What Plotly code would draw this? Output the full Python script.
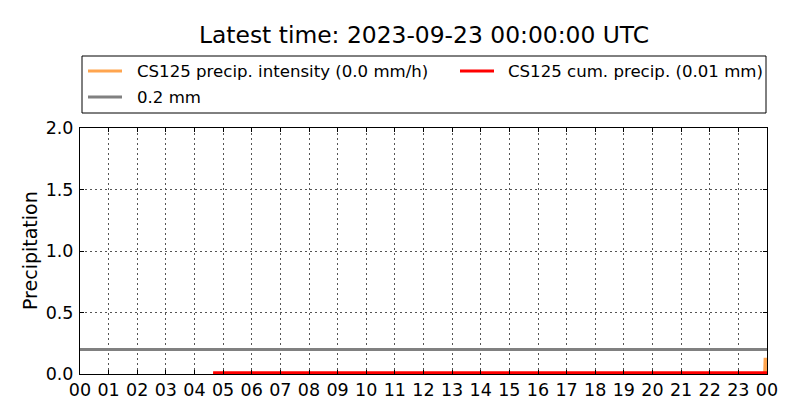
import plotly.graph_objects as go

# ---- data ----
title_text = "Latest time: 2023-09-23 00:00:00 UTC"
intensity_times = ["2023-09-22 04:39", "2023-09-22 23:55", "2023-09-22 23:56",
                   "2023-09-22 23:59", "2023-09-23 00:00"]
intensity_vals = [0.0, 0.0, 0.12, 0.12, 0.0]
cum_times = ["2023-09-22 04:39", "2023-09-23 00:00"]
cum_vals = [0.01, 0.01]
threshold_times = ["2023-09-22 00:00", "2023-09-23 00:00"]
threshold_vals = [0.2, 0.2]
legend_labels = ["CS125 precip. intensity (0.0 mm/h)", "CS125 cum. precip. (0.01 mm)", "0.2 mm"]
y_ticks = [0.0, 0.5, 1.0, 1.5, 2.0]

ORANGE = "#ffa54f"
RED = "#ff0000"
GRAY = "#808080"
FONT = "DejaVu Sans"

fig = go.Figure()
fig.add_trace(go.Scatter(x=intensity_times, y=intensity_vals, mode="lines",
                         line=dict(color=ORANGE, width=3), name=legend_labels[0]))
fig.add_trace(go.Scatter(x=threshold_times, y=threshold_vals, mode="lines",
                         line=dict(color=GRAY, width=3), name=legend_labels[2]))
fig.add_trace(go.Scatter(x=cum_times, y=cum_vals, mode="lines",
                         line=dict(color=RED, width=3), name=legend_labels[1]))

L, R, T, B = 80, 33, 128, 46
W, H = 800, 420
pw, ph = W - L - R, H - T - B

def px(xp):
    return (xp - L) / pw

def py(yp):
    return (H - B - yp) / ph

shapes = [dict(type="rect", xref="paper", yref="paper",
               x0=px(82), x1=px(766), y0=py(113), y1=py(56),
               line=dict(color="black", width=1), fillcolor="white")]
annotations = []
entries = [(legend_labels[0], ORANGE, 88, 122, 135, 71),
           (legend_labels[1], RED, 460, 494, 506, 71),
           (legend_labels[2], GRAY, 88, 122, 135, 97)]
for lab, col, x0, x1, xt, yy in entries:
    shapes.append(dict(type="line", xref="paper", yref="paper",
                       x0=px(x0), x1=px(x1), y0=py(yy), y1=py(yy),
                       line=dict(color=col, width=3)))
    annotations.append(dict(text=lab, xref="paper", yref="paper", x=px(xt), y=py(yy),
                            xanchor="left", yanchor="middle", showarrow=False,
                            font=dict(family=FONT, size=16.6, color="black")))
annotations.append(dict(text="Precipitation", xref="paper", yref="paper", x=0, y=0.5,
                        xshift=-50, xanchor="center", yanchor="middle", textangle=-90,
                        showarrow=False, font=dict(family=FONT, size=19, color="black")))
annotations.append(dict(text=title_text, xref="paper", yref="paper", x=0.5, y=py(35),
                        xanchor="center", yanchor="middle", showarrow=False,
                        font=dict(family=FONT, size=23.4, color="black")))

fig.update_layout(
    width=W, height=H,
    margin=dict(l=L, r=R, t=T, b=B),
    paper_bgcolor="white", plot_bgcolor="white",
    showlegend=False,
    shapes=shapes, annotations=annotations,
    font=dict(family=FONT, color="black"),
)
GRID = "#555555"
fig.update_xaxes(type="date", range=["2023-09-22 00:00", "2023-09-23 00:00"],
                 dtick=3600000, tick0="2023-09-22 00:00", tickformat="%H",
                 showgrid=True, gridcolor=GRID, griddash="2px,3px", gridwidth=1,
                 showline=True, linecolor="black", linewidth=1, mirror="ticks",
                 zeroline=False, tickfont=dict(family=FONT, size=17.5, color="black"),
                 ticks="inside", ticklen=4, tickcolor="black", ticklabelstandoff=0)
fig.update_yaxes(range=[0, 2], tickvals=y_ticks, tickformat=".1f",
                 showgrid=True, gridcolor=GRID, griddash="2px,3px", gridwidth=1,
                 showline=True, linecolor="black", linewidth=1, mirror="ticks",
                 zeroline=False, tickfont=dict(family=FONT, size=17.5, color="black"),
                 ticks="inside", ticklen=4, tickcolor="black", ticklabelstandoff=2)

fig.write_html("out.html", config={"displayModeBar": False},
               post_script="document.body.style.margin='0';document.body.style.overflow='hidden';")
